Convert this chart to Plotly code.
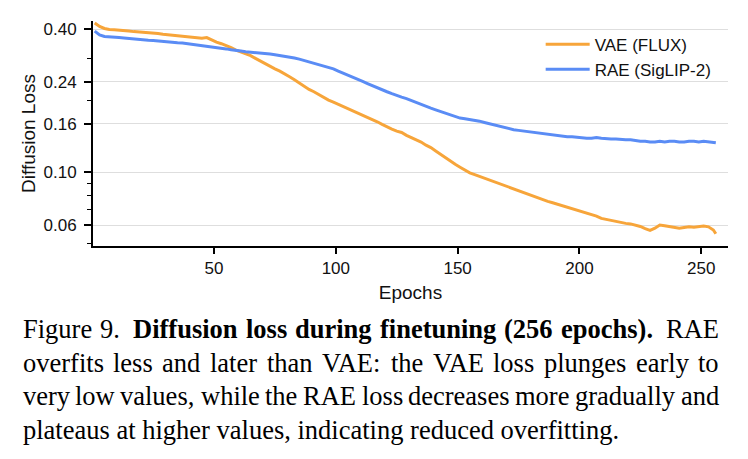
import plotly.graph_objects as go

# ---------------- data ----------------
epochs = list(range(1, 256, 2)) + [256]

vae_flux = [
    0.424, 0.410, 0.402, 0.398, 0.397, 0.396, 0.395, 0.392, 0.390, 0.389,
    0.387, 0.386, 0.384, 0.383, 0.380, 0.378, 0.377, 0.375, 0.374, 0.372,
    0.370, 0.368, 0.366, 0.368, 0.359, 0.352, 0.347, 0.341, 0.334, 0.326,
    0.320, 0.315, 0.309, 0.301, 0.293, 0.285, 0.278, 0.272, 0.266, 0.258,
    0.252, 0.245, 0.237, 0.230, 0.223, 0.218, 0.212, 0.206, 0.201, 0.197,
    0.193, 0.188, 0.185, 0.181, 0.177, 0.173, 0.170, 0.167, 0.163, 0.159,
    0.156, 0.152, 0.149, 0.147, 0.143, 0.140, 0.137, 0.134, 0.130, 0.127,
    0.123, 0.119, 0.115, 0.111, 0.108, 0.105, 0.102, 0.0995, 0.0978, 0.0961,
    0.0945, 0.0928, 0.0912, 0.0898, 0.0882, 0.0866, 0.0852, 0.0838, 0.0820, 0.0805,
    0.0790, 0.0778, 0.0765, 0.0755, 0.0745, 0.0735, 0.0722, 0.0715, 0.0705, 0.0695,
    0.0685, 0.0676, 0.0668, 0.0655, 0.0640, 0.0632, 0.0628, 0.0622, 0.0615, 0.0610,
    0.0607, 0.0600, 0.0592, 0.0580, 0.0570, 0.0582, 0.0600, 0.0596, 0.0590, 0.0585,
    0.0582, 0.0586, 0.0590, 0.0588, 0.0591, 0.0594, 0.0590, 0.0572, 0.0552,
]

rae_siglip2 = [
    0.392, 0.378, 0.372, 0.370, 0.369, 0.368, 0.367, 0.365, 0.364, 0.362,
    0.361, 0.359, 0.358, 0.356, 0.355, 0.353, 0.352, 0.350, 0.349, 0.347,
    0.346, 0.344, 0.341, 0.339, 0.337, 0.335, 0.333, 0.330, 0.327, 0.324,
    0.323, 0.321, 0.320, 0.318, 0.317, 0.315, 0.314, 0.312, 0.310, 0.307,
    0.305, 0.302, 0.299, 0.295, 0.291, 0.288, 0.285, 0.281, 0.277, 0.272,
    0.266, 0.261, 0.257, 0.252, 0.246, 0.241, 0.236, 0.231, 0.227, 0.222,
    0.218, 0.214, 0.210, 0.207, 0.204, 0.200, 0.197, 0.193, 0.189, 0.186,
    0.183, 0.180, 0.177, 0.174, 0.171, 0.169, 0.168, 0.167, 0.165, 0.164,
    0.162, 0.160, 0.158, 0.156, 0.154, 0.152, 0.151, 0.150, 0.149, 0.148,
    0.148, 0.147, 0.146, 0.145, 0.144, 0.143, 0.142, 0.141, 0.141, 0.140,
    0.140, 0.139, 0.139, 0.140, 0.139, 0.138, 0.138, 0.138, 0.137, 0.137,
    0.137, 0.136, 0.135, 0.135, 0.134, 0.134, 0.135, 0.134, 0.135, 0.135,
    0.134, 0.134, 0.135, 0.135, 0.134, 0.135, 0.134, 0.133, 0.133,
]

series_names = ["VAE (FLUX)", "RAE (SigLIP-2)"]
y_tickvals = [0.06, 0.10, 0.16, 0.24, 0.40]
y_ticktext = ["0.06", "0.10", "0.16", "0.24", "0.40"]
y_minor_vals = [0.05, 0.07, 0.08, 0.09, 0.2, 0.3]
x_tickvals = [50, 100, 150, 200, 250]

caption_lines = [
    [("Figure", False), ("9.", False), ("Diffusion", True), ("loss", True),
     ("during", True), ("finetuning", True), ("(256", True), ("epochs).", True),
     ("RAE", False)],
    [(w, False) for w in "overfits less and later than VAE: the VAE loss plunges early to".split()],
    [(w, False) for w in "very low values, while the RAE loss decreases more gradually and".split()],
]
caption_last = "plateaus at higher values, indicating reduced overfitting."

# ---------------- geometry ----------------
W, H = 748, 459
ML, MR, MT, MB = 93, 20, 21, 213
PW, PH = W - ML - MR, H - MT - MB

SANS = "Liberation Sans, Arial, Helvetica, sans-serif"
SERIF = "Liberation Serif, Times New Roman, Times, serif"

fig = go.Figure()
fig.add_trace(go.Scatter(x=epochs, y=vae_flux, mode="lines", name=series_names[0],
                         line=dict(color="#F7A53A", width=3)))
fig.add_trace(go.Scatter(x=epochs, y=rae_siglip2, mode="lines", name=series_names[1],
                         line=dict(color="#5A8CF5", width=3)))

# ---------------- caption (justified, Times metrics) ----------------
REG = dict(zip("abcdefghijklmnopqrstuvwxyz",
               [444, 500, 444, 500, 444, 333, 500, 500, 278, 278, 500, 278, 778,
                500, 500, 500, 500, 333, 389, 278, 500, 500, 722, 500, 500, 444]))
REG.update({"A": 722, "E": 611, "F": 556, "R": 667, "V": 722, ".": 250, ",": 250,
            ":": 278, "(": 333, ")": 333, " ": 250, "9": 500})
BOLD = dict(zip("abcdefghijklmnopqrstuvwxyz",
                [500, 556, 444, 556, 444, 333, 500, 556, 278, 333, 556, 278, 833,
                 556, 500, 556, 556, 444, 389, 333, 556, 500, 722, 500, 500, 444]))
BOLD.update({"D": 722, ".": 250, "(": 333, ")": 333, "2": 500, "5": 500, "6": 500})
KERN = {"VA": -135, "AV": -135}

FS = 26.5
X0, X1 = 20.7, 717.0
centers = [329.0, 362.5, 396.0, 429.5]


def wwidth(word, bold):
    t = BOLD if bold else REG
    w = sum(t.get(c, 500) for c in word)
    if not bold:
        w += sum(KERN.get(word[i:i + 2], 0) for i in range(len(word) - 1))
    return w / 1000.0 * FS


def px2paper_x(px):
    return (px - ML) / PW


def px2paper_y(py):
    return (MT + PH - py) / PH


annotations = []
for li, words in enumerate(caption_lines):
    widths = [wwidth(w, b) for w, b in words]
    weights = []
    for w, _ in words[:-1]:
        if w.endswith("."):
            weights.append(1.6)
        elif w.endswith(":"):
            weights.append(1.15)
        elif w.endswith(","):
            weights.append(1.1)
        else:
            weights.append(1.0)
    extra = (X1 - X0) - sum(widths)
    unit = extra / sum(weights)
    x = X0
    for i, (w, b) in enumerate(words):
        annotations.append(dict(
            x=px2paper_x(x), y=px2paper_y(centers[li]), xref="paper", yref="paper",
            xanchor="left", yanchor="middle", showarrow=False,
            text=f"<b>{w}</b>" if b else w,
            font=dict(family=SERIF, size=FS, color="black")))
        if i < len(words) - 1:
            x += widths[i] + unit * weights[i]

annotations.append(dict(
    x=px2paper_x(X0), y=px2paper_y(centers[3]), xref="paper", yref="paper",
    xanchor="left", yanchor="middle", showarrow=False, text=caption_last,
    font=dict(family=SERIF, size=FS, color="black")))

fig.update_layout(
    width=W, height=H,
    margin=dict(l=ML, r=MR, t=MT, b=MB, pad=0),
    paper_bgcolor="white", plot_bgcolor="white",
    font=dict(family=SANS, size=17, color="black"),
    showlegend=True,
    legend=dict(x=0.705, y=0.975, xanchor="left", yanchor="top",
                bgcolor="rgba(0,0,0,0)", font=dict(family=SANS, size=17, color="#111"),
                itemwidth=44, tracegroupgap=0),
    annotations=annotations,
)

fig.update_xaxes(
    range=[0.3, 261], tickvals=x_tickvals, ticks="outside", ticklen=6, tickwidth=1.5,
    tickcolor="black", showline=True, linecolor="black", linewidth=2,
    showgrid=False, zeroline=False,
    tickfont=dict(family=SANS, size=17, color="#111"),
    title=dict(text="Epochs", font=dict(family=SANS, size=19, color="#111"), standoff=8),
)
fig.update_yaxes(
    type="log", range=[-1.3097, -0.3643],
    tickvals=y_tickvals, ticktext=y_ticktext, ticks="outside", ticklen=7, tickwidth=1.5,
    tickcolor="black", showline=True, linecolor="black", linewidth=2,
    showgrid=True, gridcolor="#DEDEDE", gridwidth=1, zeroline=False,
    ticklabelstandoff=4,
    minor=dict(tickvals=y_minor_vals, ticks="outside", ticklen=4, tickwidth=1.2,
               tickcolor="black", showgrid=False),
    tickfont=dict(family=SANS, size=17, color="#111"),
    title=dict(text="Diffusion Loss", font=dict(family=SANS, size=19, color="#111"), standoff=3),
)

fig.write_html("out.html")
